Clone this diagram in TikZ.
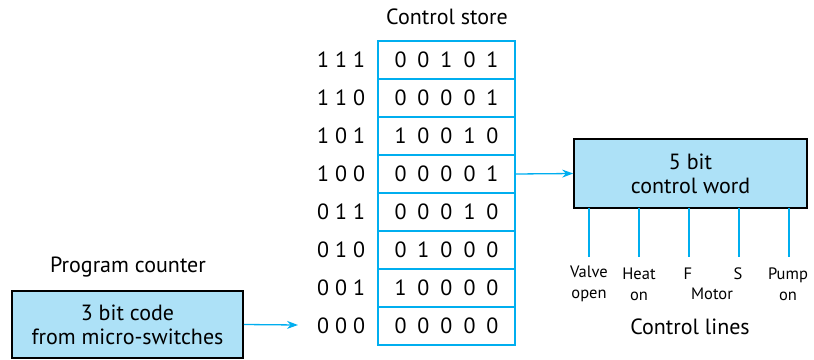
\documentclass[tikz,border=0pt]{standalone}
\usepackage{fontspec}
\setmainfont{PT Sans}
\usetikzlibrary{arrows.meta}
\definecolor{cyanline}{HTML}{00AEEF}
\definecolor{lightfill}{HTML}{ADE1F7}
\newcommand{\dg}[1]{\makebox[23pt]{#1}}
\newcommand{\ad}[1]{\makebox[18pt]{#1}}
\newcommand{\bits}[5]{\dg{#1}\dg{#2}\dg{#3}\dg{#4}\dg{#5}}
\newcommand{\addr}[3]{\ad{#1}\ad{#2}\ad{#3}}
\begin{document}
\begin{tikzpicture}[x=1pt,y=-1pt,
  cell/.style={draw=cyanline,line width=1.3pt,minimum width=137pt,minimum height=38pt,inner sep=0pt,font=\fontsize{22}{24}\selectfont},
  addrtxt/.style={inner sep=0pt,font=\fontsize{22}{24}\selectfont},
  bluebox/.style={draw=black,line width=1.6pt,fill=lightfill,align=center,inner sep=0pt,font=\fontsize{22}{24}\selectfont},
  title/.style={inner sep=0pt,font=\fontsize{22}{24}\selectfont},
  lbl/.style={inner sep=0pt,align=center,font=\fontsize{16.5}{21}\selectfont},
  wire/.style={draw=cyanline,line width=1.3pt},
  arr/.style={draw=cyanline,line width=1.3pt,-{Stealth[length=11pt,width=8pt]}}]
\useasboundingbox (0,0) rectangle (814,359);
% control store
\node[title] (cstitle) at (447,17) {Control store};
\node[cell] (r7) at (446.5,60) {\bits 00101};
\node[cell] (r6) at (446.5,98) {\bits 00001};
\node[cell] (r5) at (446.5,136) {\bits 10010};
\node[cell] (r4) at (446.5,174) {\bits 00001};
\node[cell] (r3) at (446.5,212) {\bits 00010};
\node[cell] (r2) at (446.5,250) {\bits 01000};
\node[cell] (r1) at (446.5,288) {\bits 10000};
\node[cell] (r0) at (446.5,326) {\bits 00000};
\node[addrtxt] (a7) at (341,60) {\addr 111};
\node[addrtxt] (a6) at (341,98) {\addr 110};
\node[addrtxt] (a5) at (341,136) {\addr 101};
\node[addrtxt] (a4) at (341,174) {\addr 100};
\node[addrtxt] (a3) at (341,212) {\addr 011};
\node[addrtxt] (a2) at (341,250) {\addr 010};
\node[addrtxt] (a1) at (341,288) {\addr 001};
\node[addrtxt] (a0) at (341,326) {\addr 000};
% control word
\node[bluebox,minimum width=233pt,minimum height=69pt] (cw) at (690.5,173.5) {5 bit\\control word};
\draw[arr] (r4.east) -- (cw.west);
% control lines
\foreach \i/\x in {1/589,2/639,3/689,4/739,5/789}{
  \coordinate (e\i) at (\x,257);
  \draw[wire] (\x,208) -- (e\i);
}
\node[lbl] (l1) at (589,284) {Valve\\open};
\node[lbl] (l2) at (639,284) {Heat\\on};
\node[lbl] (lf) at (688,274) {F};
\node[lbl] (ls) at (738,274) {S};
\node[lbl] (lm) at (712,294) {Motor};
\node[lbl] (l5) at (788,284) {Pump\\on};
\node[title] (cltitle) at (690,327) {Control lines};
% program counter
\node[title] (pctitle) at (128,267) {Program counter};
\node[bluebox,minimum width=231pt,minimum height=67pt] (pc) at (127.5,324.5) {3 bit code\\from micro-switches};
\coordinate (pcend) at (298,325);
\draw[arr] (pc.east) -- (pcend);
\end{tikzpicture}
\end{document}
